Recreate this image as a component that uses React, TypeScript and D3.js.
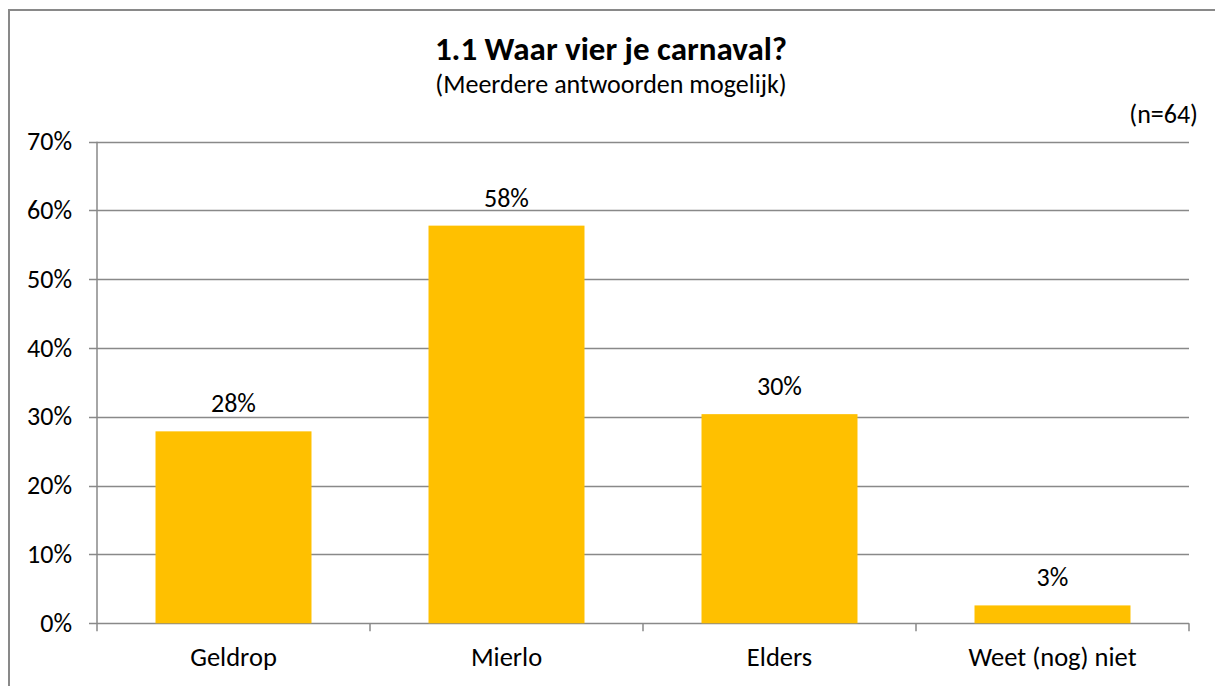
import React, { useEffect, useRef } from "react";
import * as d3 from "d3";

const categories = ["Geldrop", "Mierlo", "Elders", "Weet (nog) niet"];
const values = [0.279, 0.578, 0.304, 0.026];
const yTicks = [0, 0.1, 0.2, 0.3, 0.4, 0.5, 0.6, 0.7];
const title = "1.1 Waar vier je carnaval?";
const subtitle = "(Meerdere antwoorden mogelijk)";
const nLabel = "(n=64)";

const W = 1215;
const H = 686;
const FONT = "Calibri, Carlito, Lato, 'Noto Sans', sans-serif";

export default function App() {
  const ref = useRef<SVGSVGElement | null>(null);

  useEffect(() => {
    const svg = d3.select(ref.current);
    svg.selectAll("*").remove();

    const left = 97, right = 1189, top = 141.7, bottom = 623.3;
    const x = d3.scaleBand<string>().domain(categories).range([left, right]).paddingInner(0.4286).paddingOuter(0.2143);
    const y = d3.scaleLinear().domain([0, 0.7]).range([bottom, top]);

    // outer border (top and left visible)
    svg.append("line").attr("x1", 9).attr("x2", W).attr("y1", 10).attr("y2", 10)
      .attr("stroke", "#898989").attr("stroke-width", 2);
    svg.append("line").attr("x1", 9).attr("x2", 9).attr("y1", 9).attr("y2", H)
      .attr("stroke", "#898989").attr("stroke-width", 2);

    // gridlines
    svg.append("g").selectAll("line").data(yTicks).join("line")
      .attr("x1", 89).attr("x2", right)
      .attr("y1", d => Math.round(y(d)) + 0.5).attr("y2", d => Math.round(y(d)) + 0.5)
      .attr("stroke", "#898989").attr("stroke-width", 1.5);

    // y axis line
    svg.append("line").attr("x1", left).attr("x2", left).attr("y1", top).attr("y2", bottom)
      .attr("stroke", "#898989").attr("stroke-width", 1.5);

    // x category ticks
    const edges = [left, ...categories.map(c => (x(c) as number) + x.bandwidth() + x.step() * 0.2143)];
    svg.append("g").selectAll("line").data(edges).join("line")
      .attr("x1", d => d).attr("x2", d => d).attr("y1", bottom).attr("y2", bottom + 8)
      .attr("stroke", "#898989").attr("stroke-width", 1.5);

    // y labels
    svg.append("g").selectAll("text").data(yTicks).join("text")
      .attr("x", 72).attr("y", d => y(d) + 8.5)
      .attr("text-anchor", "end").attr("font-family", FONT).attr("font-size", 26).attr("fill", "#000")
      .text(d => d3.format(".0%")(d));

    // bars
    svg.append("g").selectAll("rect").data(values).join("rect")
      .attr("x", (d, i) => x(categories[i]) as number)
      .attr("width", x.bandwidth())
      .attr("y", d => y(d))
      .attr("height", d => bottom - y(d))
      .attr("fill", "#FFC000");

    // value labels
    svg.append("g").selectAll("text").data(values).join("text")
      .attr("x", (d, i) => (x(categories[i]) as number) + x.bandwidth() / 2)
      .attr("y", d => y(d) - 19)
      .attr("text-anchor", "middle").attr("font-family", FONT).attr("font-size", 26).attr("fill", "#000")
      .text(d => d3.format(".0%")(d));

    // x labels
    svg.append("g").selectAll("text").data(categories).join("text")
      .attr("x", d => (x(d) as number) + x.bandwidth() / 2)
      .attr("y", 666)
      .attr("text-anchor", "middle").attr("font-family", FONT).attr("font-size", 26.5).attr("fill", "#000")
      .text(d => d);

    svg.append("text").attr("x", 611).attr("y", 60).attr("text-anchor", "middle")
      .attr("font-family", FONT).attr("font-size", 33).attr("font-weight", "bold").attr("fill", "#000").text(title);
    svg.append("text").attr("x", 611).attr("y", 93).attr("text-anchor", "middle")
      .attr("font-family", FONT).attr("font-size", 26).attr("fill", "#000").text(subtitle);
    svg.append("text").attr("x", 1198).attr("y", 123).attr("text-anchor", "end")
      .attr("font-family", FONT).attr("font-size", 26).attr("fill", "#000").text(nLabel);
  }, []);

  return (
    <svg ref={ref} width={W} height={H} style={{ position: "absolute", left: 0, top: 0, display: "block" }} />
  );
}
